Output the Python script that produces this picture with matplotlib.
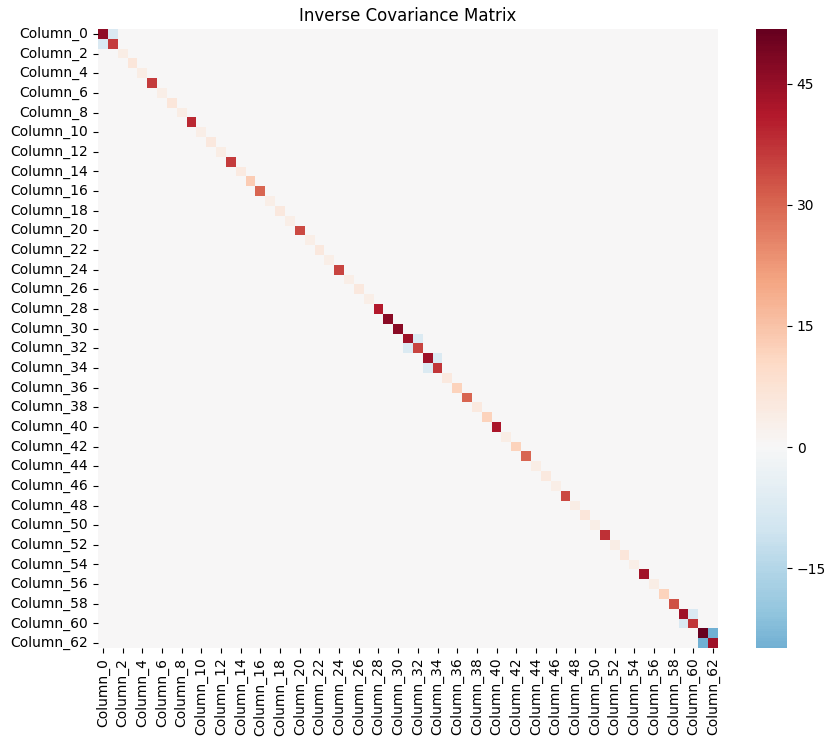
import numpy as np
import pandas as pd
import matplotlib
matplotlib.use("Agg")
import matplotlib.pyplot as plt
import seaborn as sns

n = 63
labels = ["Column_{0}".format(i) for i in range(n)]

# diagonal of the precision matrix
diag_vals = [46, 36, 4, 6, 4, 36, 3.5, 6, 4, 39,
             3.5, 5.5, 4, 36, 4.5, 13, 30, 3.5, 5.5, 3.5,
             34, 3.5, 5.5, 3.5, 35, 3.5, 5.5, 3.5, 41, 46.5,
             46.5, 44, 35, 44, 37, 5, 12, 30, 5, 12,
             42, 4, 12, 30, 4, 5, 3.5, 34, 4, 6,
             3.5, 38, 4, 6, 3.5, 43.5, 4, 12, 33, 44,
             37, 51.8, 44]

# the few non-zero off diagonal pairs (symmetric)
off_rows = [0, 31, 33, 59, 61]
off_cols = [1, 32, 34, 60, 62]
off_vals = [-8, -7.5, -7.5, -8, -24.9]

cbar_ticks = [-15, 0, 15, 30, 45]

prec = np.zeros((n, n))
prec[np.arange(n), np.arange(n)] = diag_vals
for r, c, v in zip(off_rows, off_cols, off_vals):
    prec[r, c] = v
    prec[c, r] = v

df = pd.DataFrame(prec, index=labels, columns=labels)

W, H = 836, 745
fig = plt.figure(figsize=(W/100, H/100), dpi=100)
ax = fig.add_axes([98/W, (H-648)/H, 620/W, 619/H])
cax = fig.add_axes([756/W, (H-648)/H, 31/W, 619/H])

sns.heatmap(df, cmap="RdBu_r", center=0, ax=ax, cbar_ax=cax,
            xticklabels=2, yticklabels=2)
ax.set_title("Inverse Covariance Matrix", fontsize=12)
cbar = ax.collections[0].colorbar
cbar.set_ticks(cbar_ticks)

fig.savefig("out.png", dpi=100)
